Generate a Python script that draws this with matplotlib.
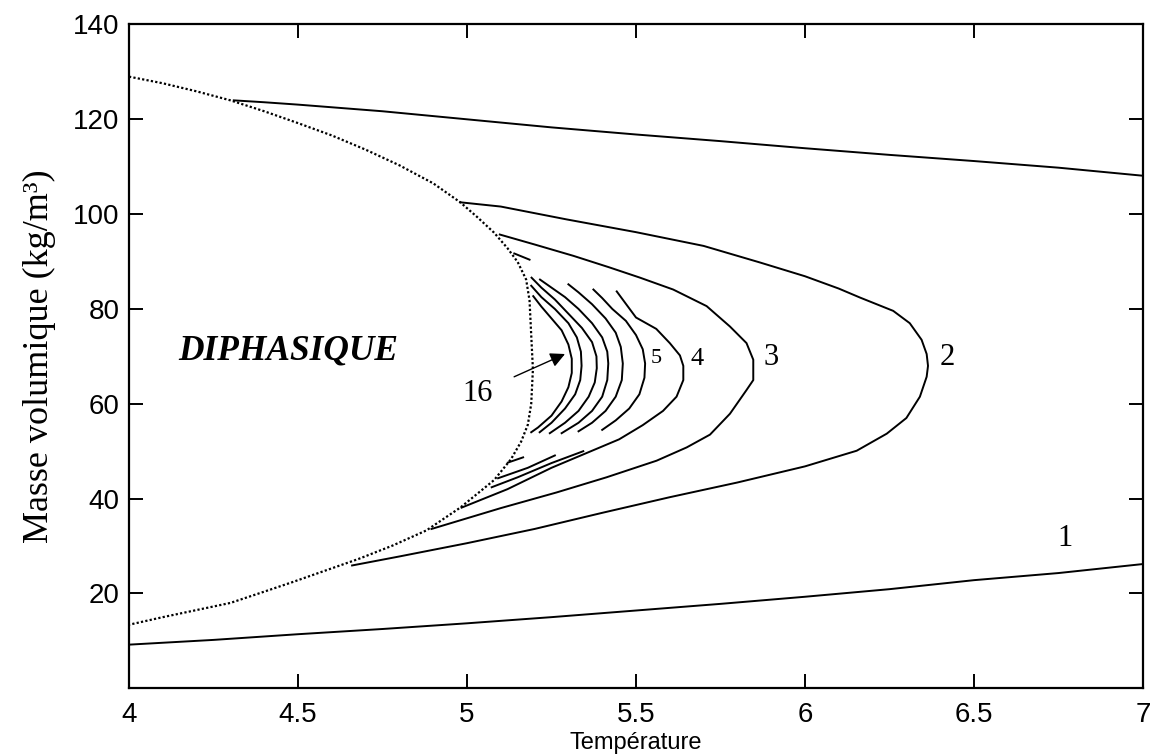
import numpy as np
import matplotlib
matplotlib.use("Agg")
import matplotlib.pyplot as plt

nan = np.nan

# courbe de saturation (pointillés)
sat_x = [4.0, 4.1, 4.2, 4.3, 4.4, 4.5, 4.6, 4.7, 4.8, 4.9, 4.98, 5.03, 5.08, 5.12, 5.15, 5.175,
         5.185, 5.19, 5.195, 5.19, 5.18, 5.16, 5.13, 5.08, 5.03, 4.98, 4.88, 4.78, 4.68, 4.58,
         4.48, 4.38, 4.3, 4.2, 4.1, 4.0]
sat_y = [129.0, 127.6, 125.9, 124.0, 121.7, 119.2, 116.6, 113.6, 110.3, 106.5, 102.5, 99.4, 96.1,
         92.8, 89.9, 86.2, 81.8, 74.5, 67.3, 60.0, 55.6, 52.0, 48.3, 43.9, 41.0, 38.1, 33.3,
         30.1, 27.3, 24.8, 22.3, 19.9, 18.0, 16.5, 15.0, 13.4]

# courbe 1 (haut et bas)
c1h_x = [4.31, 4.4, 4.5, 4.75, 5.0, 5.25, 5.5, 5.75, 6.0, 6.25, 6.5, 6.75, 7.0]
c1h_y = [124.0, 123.6, 123.1, 121.7, 120.0, 118.3, 116.8, 115.4, 113.9, 112.5, 111.2, 109.8, 108.1]
c1b_x = [4.0, 4.25, 4.5, 4.75, 5.0, 5.25, 5.5, 5.75, 6.0, 6.25, 6.5, 6.75, 7.0]
c1b_y = [9.2, 10.2, 11.4, 12.5, 13.7, 15.0, 16.4, 17.8, 19.3, 20.9, 22.8, 24.3, 26.2]

c2_x = [4.98, 5.1, 5.294, 5.5, 5.7, 5.867, 6.0, 6.1, 6.163, 6.261, 6.31, 6.345, 6.36, 6.364,
        6.36, 6.34, 6.3, 6.242, 6.153, 6.0, 5.8, 5.6, 5.4, 5.2, 5.0, 4.8, 4.66]
c2_y = [102.5, 101.6, 98.9, 96.2, 93.3, 89.8, 86.9, 84.3, 82.4, 79.6, 77.0, 73.5, 70.5, 68,
        65.7, 61.5, 57.0, 53.7, 50.1, 46.8, 43.4, 40.3, 37.0, 33.6, 30.6, 27.8, 25.9]

c3_x = [5.097, 5.2, 5.315, 5.42, 5.512, 5.61, 5.709, 5.778, 5.827, 5.847, 5.847, 5.827, 5.778,
        5.719, 5.65, 5.561, 5.413, 5.265, 5.1, 4.895]
c3_y = [95.7, 93.6, 91.2, 88.8, 86.6, 84.1, 80.6, 76.3, 72.8, 69.3, 65.0, 62.9, 57.9,
        53.5, 50.8, 48.0, 44.5, 41.3, 38.0, 33.6]

c4_x = [5.14, 5.185, nan, 5.443, 5.473, 5.5, 5.56, 5.6, 5.63, 5.64, 5.64, 5.62, 5.58, 5.52,
        5.45, 5.35, 5.25, 5.12, 4.984]
c4_y = [91.7, 90.4, nan, 83.7, 80.8, 78.2, 75.8, 72.8, 70.2, 68, 65, 61.5, 58.5, 55.5,
        52.5, 49.5, 46.5, 42.0, 38.1]

c5_x = [5.374, 5.40, 5.43, 5.47, 5.50, 5.52, 5.527, 5.525, 5.51, 5.48, 5.44, 5.40, nan,
        5.344, 5.25, 5.15, 5.073]
c5_y = [84.1, 82.3, 80, 77.5, 74.5, 71.5, 68.5, 65.5, 62, 59, 56.5, 54.5, nan,
        50.0, 47.5, 44.5, 42.4]

c6_x = [5.30, 5.33, 5.37, 5.41, 5.44, 5.455, 5.461, 5.458, 5.44, 5.41, 5.37, 5.33, nan,
        5.26, 5.18, 5.092]
c6_y = [85.2, 83.5, 81, 78, 75, 72, 68.5, 65, 61.5, 58.5, 56, 54.2, nan,
        49.1, 46.5, 44.3]

c7_x = [5.216, 5.25, 5.29, 5.33, 5.37, 5.40, 5.415, 5.418, 5.415, 5.40, 5.37, 5.33, 5.28, nan,
        5.166, 5.121]
c7_y = [86.2, 84.5, 82.5, 80, 77, 74, 71, 68.5, 65, 61.5, 58.5, 56, 53.8, nan,
        48.7, 47.6]

c8_x = [5.191, 5.22, 5.26, 5.30, 5.34, 5.37, 5.383, 5.384, 5.378, 5.36, 5.33, 5.29, 5.245]
c8_y = [86.6, 84.5, 82, 79, 76, 73, 70, 67.5, 64.5, 61.5, 58.5, 56, 53.8]

c9_x = [5.19, 5.22, 5.26, 5.30, 5.325, 5.337, 5.339, 5.335, 5.32, 5.29, 5.25, 5.215]
c9_y = [84.9, 82.5, 80, 77, 74, 71, 68, 65, 62, 59, 56, 54]

c10_x = [5.196, 5.22, 5.25, 5.28, 5.30, 5.31, 5.31, 5.30, 5.28, 5.25, 5.21, 5.19]
c10_y = [82.7, 80.5, 78, 75.5, 72.5, 69.5, 66.5, 63.5, 60.5, 57.5, 55, 54]

courbes = [(c1h_x, c1h_y), (c1b_x, c1b_y), (c2_x, c2_y), (c3_x, c3_y), (c4_x, c4_y),
           (c5_x, c5_y), (c6_x, c6_y), (c7_x, c7_y), (c8_x, c8_y), (c9_x, c9_y), (c10_x, c10_y)]

# étiquettes des courbes
etiq = ["1", "2", "3", "4", "5"]
etiq_x = [6.77, 6.42, 5.90, 5.68, 5.56]
etiq_y = [31.6, 69.8, 69.8, 69.4, 69.6]
etiq_taille = [22, 22, 22, 19, 16]

fig = plt.figure(figsize=(11.53, 7.56), dpi=100)
ax = fig.add_axes([0.1119, 0.0896, 0.8794, 0.878])

ax.plot(sat_x, sat_y, color='black', lw=1.6, linestyle=(0, (1, 1)))
for cx, cy in courbes:
    ax.plot(cx, cy, color='black', lw=1.4)

for t, x, y, s in zip(etiq, etiq_x, etiq_y, etiq_taille):
    ax.text(x, y, t, fontsize=s, family='Liberation Serif', ha='center', va='center')

ax.text(4.47, 71.2, 'DIPHASIQUE', fontsize=25.5, family='Liberation Serif',
        style='italic', weight='bold', ha='center', va='center')
ax.annotate('16', xy=(5.29, 70.5), xytext=(5.03, 62.2), fontsize=22,
            family='Liberation Serif', ha='center', va='center',
            arrowprops=dict(arrowstyle='-|>', color='black', lw=1.0,
                            mutation_scale=22, shrinkA=15, shrinkB=0))

ax.set_xlim(4, 7)
ax.set_ylim(0, 140)
ax.set_xticks([4, 4.5, 5, 5.5, 6, 6.5, 7])
ax.set_xticklabels(['4', '4.5', '5', '5.5', '6', '6.5', '7'])
ax.set_yticks([20, 40, 60, 80, 100, 120, 140])
ax.tick_params(direction='in', length=10, width=1.4, top=True, right=True, labelsize=20)
ax.tick_params(axis='y', pad=7)
ax.tick_params(axis='x', pad=10)
for lab in ax.get_xticklabels() + ax.get_yticklabels():
    lab.set_family('Liberation Sans')
for sp in ax.spines.values():
    sp.set_linewidth(1.6)

ax.set_xlabel('Température', fontsize=17, family='Liberation Sans', labelpad=3)
ax.set_ylabel('Masse volumique (kg/m³)', fontsize=26, family='Liberation Serif', labelpad=12)

fig.savefig('out.png', dpi=100)
